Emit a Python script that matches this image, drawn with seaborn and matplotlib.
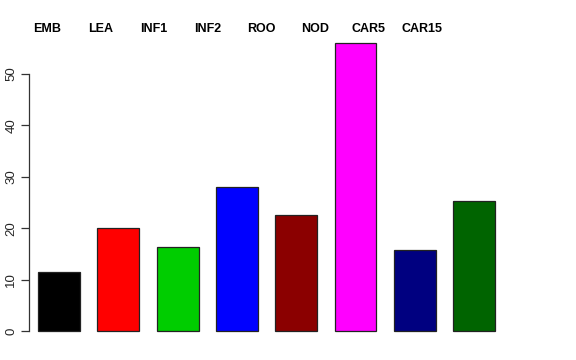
import matplotlib
matplotlib.use("Agg")
import matplotlib.pyplot as plt
import seaborn as sns
import pandas as pd

categories = ["EMB", "LEA", "INF1", "INF2", "ROO", "NOD", "CAR5", "CAR15"]
values = [11.5, 20.0, 16.3, 28.1, 22.5, 56.0, 15.7, 25.3]
colors = ["#000000", "#FF0000", "#00CD00", "#0000FF", "#8B0000", "#FF00FF", "#000080", "#006400"]
yticks = [0, 10, 20, 30, 40, 50]

sns.set_theme(style="white")
plt.rcParams["font.family"] = ["Liberation Sans", "DejaVu Sans"]

W, H = 576, 360
fig = plt.figure(figsize=(W / 100, H / 100), dpi=100)
left_px, right_px, bottom_px, top_px = 29, 547, 331, 40
ax = fig.add_axes([left_px / W, (H - bottom_px) / H, (right_px - left_px) / W, (bottom_px - top_px) / H])

df = pd.DataFrame({"cat": categories, "val": values})
sns.barplot(data=df, x="cat", y="val", hue="cat", palette=colors, legend=False,
            width=0.708, edgecolor="#222222", linewidth=0.9, ax=ax, saturation=1)
for p in ax.patches:
    p.set_clip_on(False)

px_per_unit = 59.3
x0 = (left_px - 59) / px_per_unit
ax.set_xlim(x0, x0 + (right_px - left_px) / px_per_unit)
ax.set_ylim(0, (bottom_px - top_px) / 5.14)

for s in ["top", "right", "bottom"]:
    ax.spines[s].set_visible(False)
ax.spines["left"].set_bounds(0, 50)
ax.spines["left"].set_color("#333333")
ax.spines["left"].set_linewidth(0.9)
ax.set_xticks([])
ax.set_yticks(yticks)
ax.set_yticklabels([str(t) for t in yticks], rotation=90, va="center", fontsize=9.5)
ax.tick_params(axis="y", left=True, length=5.5, width=0.9, color="#333333", pad=3)
ax.set_xlabel("")
ax.set_ylabel("")

for i, c in enumerate(categories):
    fig.text((47 + 53.6 * i) / W, 1 - 29.5 / H, c, ha="center", va="center",
             fontsize=9, fontweight="bold", color="black")

fig.savefig("out.png", dpi=100, facecolor="white")
